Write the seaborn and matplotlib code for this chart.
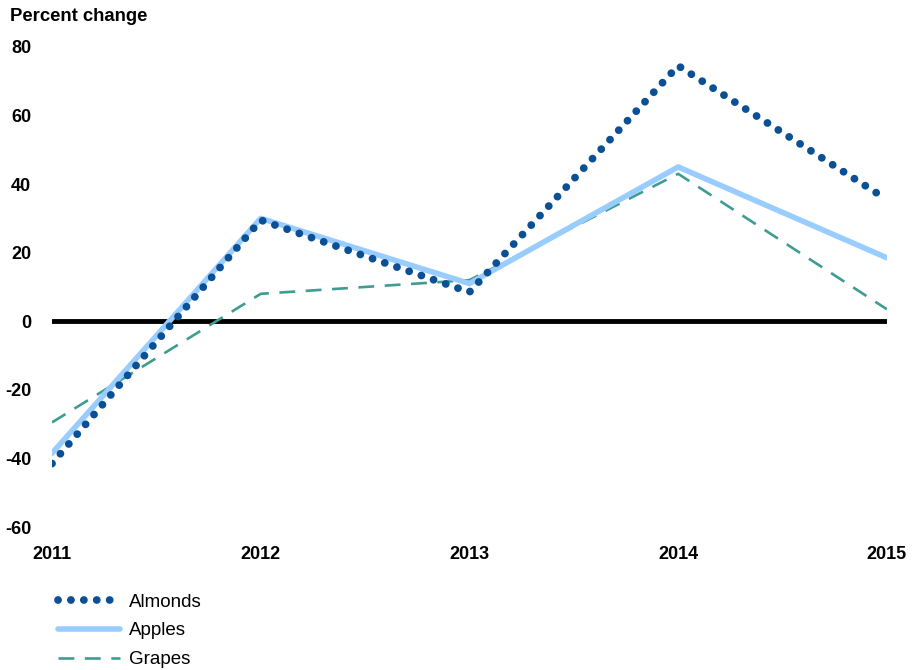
import numpy as np
import pandas as pd
import seaborn as sns
import matplotlib.pyplot as plt
from matplotlib.lines import Line2D

years = [2011, 2012, 2013, 2014, 2015]
almonds = [-41.5, 29.5, 8.5, 74.5, 35.5]
apples = [-38.5, 30.0, 11.0, 45.0, 18.5]
grapes = [-29.5, 8.0, 12.0, 43.0, 3.5]
y_ticks = [-60, -40, -20, 0, 20, 40, 60, 80]

df = pd.DataFrame({"year": years, "Almonds": almonds, "Apples": apples, "Grapes": grapes})

sns.set_style("white")
plt.rcParams['font.family'] = ['Liberation Sans', 'DejaVu Sans']
plt.rcParams['text.color'] = 'black'
plt.rcParams['xtick.color'] = 'black'
plt.rcParams['ytick.color'] = 'black'

fig = plt.figure(figsize=(9.2, 6.7), dpi=100)
ax = fig.add_axes([0.0565, 0.2134, 0.9075, 0.7166])

styles = {
    "Almonds": dict(color="#0B4F95", lw=5.6, ls=(0, (0.01, 1.65)), dash_capstyle="round"),
    "Apples": dict(color="#99CCFF", lw=4.0, ls="-"),
    "Grapes": dict(color="#3F9C90", lw=1.9, ls=(0, (6, 4))),
}

ax.axhline(0, color="black", lw=3.5, zorder=1)
for name in ["Grapes", "Apples", "Almonds"]:
    st = styles[name]
    sns.lineplot(data=df, x="year", y=name, ax=ax, color=st["color"], lw=st["lw"],
                 zorder=3 if name == "Almonds" else 2)
    line = ax.lines[-1]
    line.set_linestyle(st["ls"])
    if "dash_capstyle" in st:
        line.set_dash_capstyle(st["dash_capstyle"])

ax.set_xlim(2011, 2015)
ax.set_ylim(-60, 80)
ax.set_xticks(years)
ax.set_xticklabels([str(y) for y in years], fontweight="bold", fontsize=13)
ax.set_yticks(y_ticks)
ax.set_yticklabels([str(t) for t in y_ticks], fontweight="bold", fontsize=13)
ax.tick_params(axis="y", length=0, pad=15)
ax.tick_params(axis="x", length=0, pad=14)
ax.set_xlabel("")
ax.set_ylabel("")
for s in ax.spines.values():
    s.set_visible(False)

fig.text(0.011, 0.975, "Percent change", fontweight="bold", fontsize=13.3, va="center", ha="left")

handles = []
for name in ["Almonds", "Apples", "Grapes"]:
    st = styles[name]
    h = Line2D([0], [0], color=st["color"], lw=st["lw"], ls=st["ls"])
    if "dash_capstyle" in st:
        h.set_dash_capstyle(st["dash_capstyle"])
    handles.append(h)
fig.legend(handles, ["Almonds", "Apples", "Grapes"], loc="upper left",
           bbox_to_anchor=(0.053, 0.128), frameon=False, fontsize=13.5,
           handlelength=3.3, handletextpad=0.5, labelspacing=0.62, borderpad=0)

fig.savefig("out.png", dpi=100)
